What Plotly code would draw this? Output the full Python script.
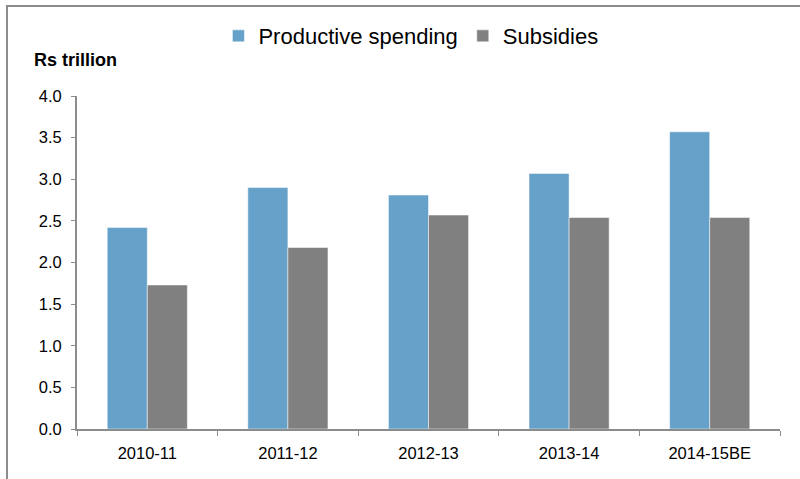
import plotly.graph_objects as go

categories = ["2010-11", "2011-12", "2012-13", "2013-14", "2014-15BE"]
productive = [2.42, 2.90, 2.81, 3.07, 3.57]
subsidies = [1.73, 2.18, 2.57, 2.54, 2.54]
y_ticks = [0.0, 0.5, 1.0, 1.5, 2.0, 2.5, 3.0, 3.5, 4.0]

fig = go.Figure()
fig.add_trace(go.Bar(x=categories, y=productive, name="Productive spending",
                     marker=dict(color="#65A1C9", line=dict(color="rgba(255,255,255,0.5)", width=1))))
fig.add_trace(go.Bar(x=categories, y=subsidies, name="Subsidies",
                     marker=dict(color="#808080", line=dict(color="rgba(255,255,255,0.5)", width=1))))

fig.update_layout(
    width=800, height=479,
    margin=dict(l=77, r=20, t=96, b=50),
    paper_bgcolor="white", plot_bgcolor="white",
    barmode="group", bargap=0.43, bargroupgap=0,
    font=dict(family="Liberation Sans, Arial, sans-serif", color="#000000"),
    showlegend=True,
    legend=dict(orientation="h", x=0.475, xanchor="center", y=1.18, yanchor="middle",
                font=dict(size=22), itemwidth=30, traceorder="normal"),
    xaxis=dict(type="category", showline=True, linecolor="#8c8c8c", linewidth=2, ticks="outside",
               tickson="boundaries", ticklen=5, tickcolor="#8c8c8c", tickwidth=1,
               tickfont=dict(size=16.5), ticklabelstandoff=8, showgrid=False),
    yaxis=dict(range=[0, 4.0], tickvals=y_ticks, ticktext=[f"{v:.1f}" for v in y_ticks],
               showline=True, linecolor="#8c8c8c", linewidth=2, ticks="outside",
               ticklen=4, tickcolor="#8c8c8c", tickwidth=1, tickfont=dict(size=16.5),
               ticklabelstandoff=6, showgrid=False, zeroline=False),
    shapes=[dict(type="rect", xref="paper", yref="paper", x0=-0.0996, x1=1.2,
                 y0=-0.5, y1=1.27, line=dict(color="#8c8c8c", width=2), fillcolor="rgba(0,0,0,0)")],
    annotations=[dict(text="<b>Rs trillion</b>", xref="paper", yref="paper", x=-0.064,
                      xanchor="left", y=1.108, yanchor="middle", showarrow=False,
                      font=dict(size=18))],
)

fig.write_html("out.html")
